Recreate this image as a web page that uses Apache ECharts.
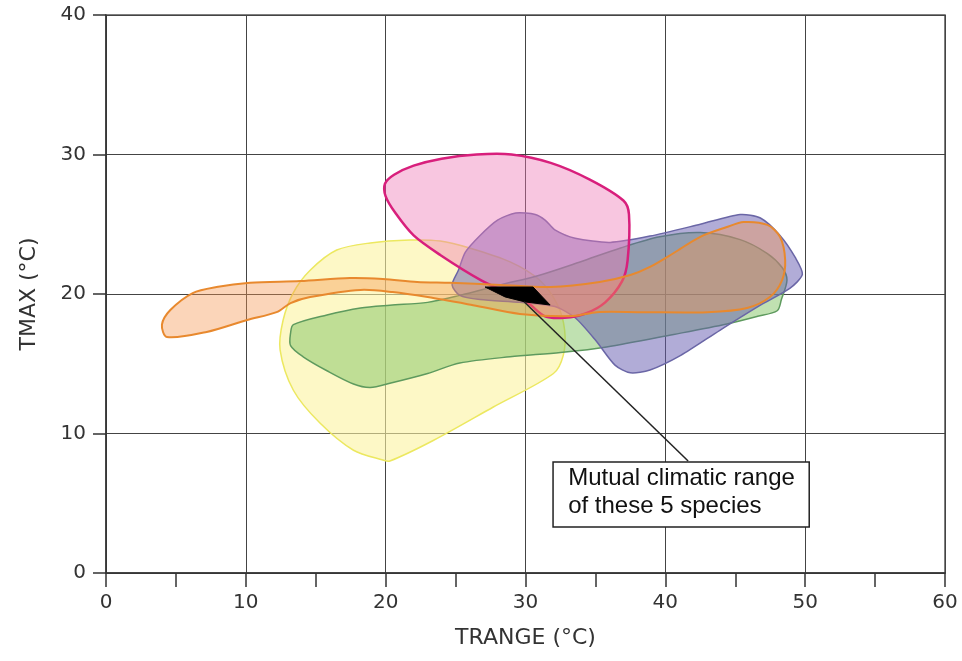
<!DOCTYPE html>
<html>
<head>
<meta charset="utf-8">
<script src="https://cdn.jsdelivr.net/npm/echarts@6/dist/echarts.min.js"></script>
<style>html,body{margin:0;padding:0;background:#fff;}#c{width:962px;height:661px;}</style>
</head>
<body>
<div id="c"></div>
<script>
// Axis ranges (°C)
const xRange = [0, 60];
const yRange = [0, 40];
const xAxisName = 'TRANGE (°C)';
const yAxisName = 'TMAX (°C)';

// Climatic envelopes: [TRANGE, TMAX]
const yellowEnvelope = [
  [16.5,23.15],[18.9,23.66],[21.75,23.87],[23.9,23.8],[26.0,23.3],[28.9,22.3],[31.0,21.0],
  [32.3,19.2],[32.8,17.4],[32.7,15.6],[32.0,14.3],[27.7,11.9],[23.4,9.5],[20.3,8.03],
  [19.8,8.1],[17.7,8.8],[15.3,10.75],[13.4,13.1],[12.45,16.0],[12.66,18.1],[13.4,20.1],[14.6,21.7]
];
const greenEnvelope = [
  [13.4,17.8],[15.8,18.5],[18.2,19.0],[20.3,19.2],[23.0,19.4],[25.3,19.9],[28.2,20.65],
  [31.0,21.35],[33.9,22.3],[36.8,23.3],[39.6,24.1],[42.5,24.4],[45.35,23.9],[47.3,22.9],
  [48.35,21.9],[48.7,21.0],[48.3,19.6],[48.0,18.8],[46.6,18.4],[44.4,17.85],[40.6,17.1],
  [35.8,16.2],[32.5,15.8],[28.9,15.5],[25.3,15.05],[23.0,14.3],[20.3,13.6],[18.9,13.3],
  [17.7,13.55],[15.8,14.5],[14.1,15.5],[13.2,16.3],[13.2,17.2]
];
const purpleEnvelope = [
  [24.75,20.65],[25.2,21.7],[25.7,23.0],[26.75,24.2],[28.0,25.3],[29.3,25.8],[30.7,25.7],
  [31.4,25.3],[32.1,24.6],[33.55,24.0],[36.05,23.7],[38.9,24.15],[42.5,25.0],[45.35,25.7],
  [46.8,25.45],[48.2,24.2],[49.3,22.6],[49.8,21.4],[48.9,20.4],[46.8,19.2],[43.9,17.4],
  [41.1,15.6],[38.9,14.55],[37.5,14.35],[36.4,14.9],[35.0,16.7],[33.55,18.3],[32.1,19.1],
  [29.6,19.4],[26.75,19.6],[25.3,19.9]
];
const pinkEnvelope = [
  [19.95,27.9],[20.6,28.55],[22.0,29.2],[24.0,29.7],[26.5,30.0],[29.0,30.0],[31.8,29.4],[34.6,28.2],
  [37.0,26.7],[37.4,25.7],[37.3,22.4],[36.9,20.9],[35.7,19.4],[34.3,18.6],[32.8,18.3],
  [31.4,18.4],[30.1,19.4],[26.8,21.0],[23.9,22.8],[22.0,24.2],[20.7,25.8],[20.0,27.0]
];
const orangeEnvelope = [
  [4.0,17.8],[4.6,18.85],[6.2,20.07],[7.9,20.5],[10.3,20.8],[13.9,20.93],[17.45,21.15],
  [19.8,21.08],[22.25,20.86],[24.6,20.8],[28.2,20.65],[31.8,20.5],[35.3,20.86],[37.5,21.36],
  [38.9,21.94],[40.6,22.94],[42.5,24.1],[44.4,24.8],[45.6,25.16],[47.3,24.95],[48.2,24.1],
  [48.57,22.44],[48.35,21.0],[47.5,19.8],[45.85,19.0],[43.0,18.7],[38.2,18.7],[35.1,18.7],
  [33.4,18.42],[29.6,18.57],[26.25,19.2],[23.0,19.78],[20.5,20.14],[18.2,20.29],[14.6,19.78],
  [13.2,19.35],[12.2,18.7],[10.1,18.14],[7.2,17.28],[4.36,16.92]
];
const mutualRange = [
  [27.11,20.5],[30.54,20.5],[31.76,19.21],[29.97,19.43],[28.54,19.79]
];

// Annotation
const annotationLines = ['Mutual climatic range', 'of these 5 species'];
const annotationBox = [[31.97, 7.96], [50.29, 3.3]];
const annotationTextAnchor = [33.05, 5.75];
const leaderLine = [[29.9, 19.45], [41.63, 8.03]];

function envelope(name, pts, fill, stroke, lw, smooth, z) {
  return {
    type: 'custom', name: name, coordinateSystem: 'cartesian2d', silent: true, z: z,
    data: [pts[0]],
    renderItem: function (params, api) {
      return {
        type: 'polygon',
        shape: { points: pts.map(function (p) { return api.coord(p); }), smooth: smooth },
        style: { fill: fill, stroke: stroke, lineWidth: lw }
      };
    }
  };
}

const chart = echarts.init(document.getElementById('c'), null, { renderer: 'canvas' });
const labelFont = 'DejaVu Sans';
chart.setOption({
  animation: false,
  backgroundColor: '#ffffff',
  grid: { left: 106, right: 17, top: 15, bottom: 88, show: true, borderColor: '#555', borderWidth: 1.5, backgroundColor: 'transparent' },
  xAxis: {
    type: 'value', min: xRange[0], max: xRange[1], interval: 10,
    name: xAxisName, nameLocation: 'middle', nameGap: 54,
    nameTextStyle: { fontFamily: labelFont, fontSize: 22, color: '#333' },
    axisLine: { show: true, lineStyle: { color: '#333', width: 1.5 } },
    axisTick: { show: true, inside: false, length: 14, lineStyle: { color: '#333', width: 1.5 } },
    minorTick: { show: true, splitNumber: 2, length: 14, lineStyle: { color: '#333', width: 1.5 } },
    axisLabel: { fontFamily: labelFont, fontSize: 20, color: '#333', margin: 20 },
    splitLine: { show: true, lineStyle: { color: '#444', width: 1 } }
  },
  yAxis: {
    type: 'value', min: yRange[0], max: yRange[1], interval: 10,
    name: yAxisName, nameLocation: 'middle', nameGap: 66, nameRotate: 90,
    nameTextStyle: { fontFamily: labelFont, fontSize: 22, color: '#333' },
    axisLine: { show: true, lineStyle: { color: '#333', width: 1.5 } },
    axisTick: { show: true, inside: false, length: 13, lineStyle: { color: '#333', width: 1.5 } },
    axisLabel: { fontFamily: labelFont, fontSize: 20, color: '#333', margin: 20 },
    splitLine: { show: true, lineStyle: { color: '#444', width: 1 } }
  },
  series: [
    envelope('yellow', yellowEnvelope, 'rgba(252,244,160,0.6)', '#ece860', 1.5, 0.3, 2),
    envelope('green', greenEnvelope, 'rgba(130,195,100,0.5)', '#5e9a5e', 1.5, 0.3, 3),
    envelope('purple', purpleEnvelope, 'rgba(100,90,175,0.5)', '#6a66a6', 1.5, 0.25, 4),
    envelope('pink', pinkEnvelope, 'rgba(238,120,180,0.42)', '#d81f7c', 2.5, 0.3, 5),
    envelope('orange', orangeEnvelope, 'rgba(245,150,80,0.4)', '#e8892e', 2, 0.3, 6),
    envelope('mutual', mutualRange, '#000000', '#000000', 1, 0, 7),
    {
      type: 'custom', name: 'annotation', coordinateSystem: 'cartesian2d', silent: true, z: 8,
      data: [annotationTextAnchor],
      renderItem: function (params, api) {
        const a = api.coord(annotationBox[0]);
        const b = api.coord(annotationBox[1]);
        const l0 = api.coord(leaderLine[0]);
        const l1 = api.coord(leaderLine[1]);
        const t = api.coord(annotationTextAnchor);
        return {
          type: 'group',
          children: [
            { type: 'line', shape: { x1: l0[0], y1: l0[1], x2: l1[0], y2: l1[1] }, style: { stroke: '#222', lineWidth: 1.5 } },
            { type: 'rect', shape: { x: a[0], y: a[1], width: b[0] - a[0], height: b[1] - a[1] }, style: { fill: '#fff', stroke: '#222', lineWidth: 1.5 } },
            { type: 'text', x: t[0], y: t[1], style: { text: annotationLines.join('\n'), fontFamily: 'Liberation Sans', fontSize: 24, lineHeight: 28, fill: '#111', align: 'left', verticalAlign: 'middle' } }
          ]
        };
      }
    }
  ]
});
</script>
</body>
</html>
